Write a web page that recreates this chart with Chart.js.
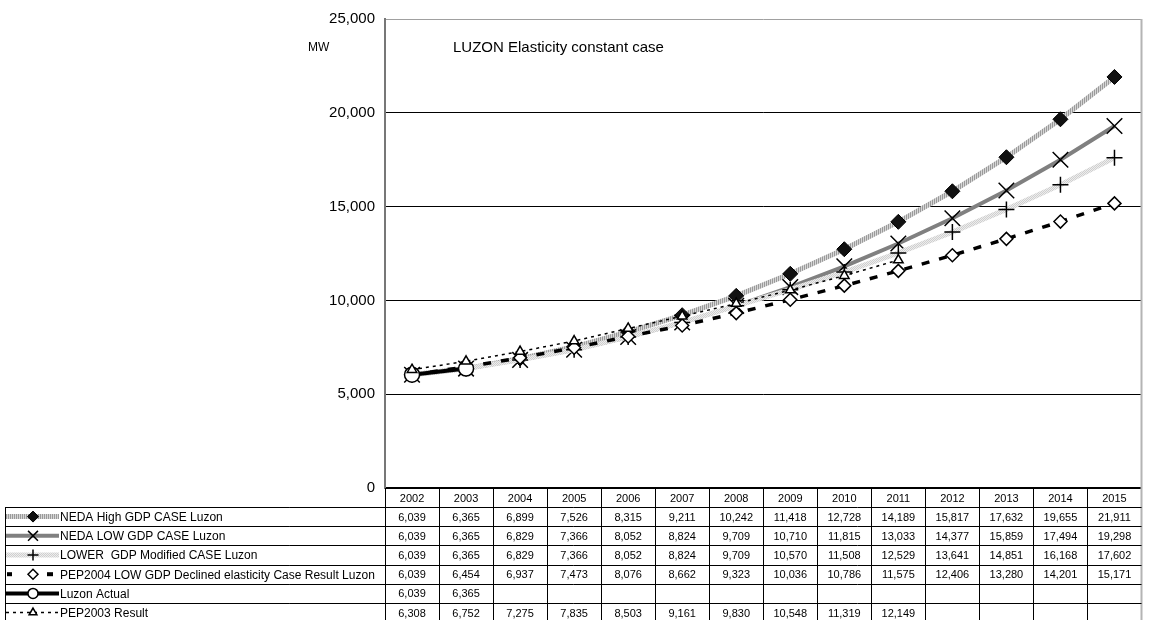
<!DOCTYPE html>
<html>
<head>
<meta charset="utf-8">
<script src="https://cdn.jsdelivr.net/npm/chart.js@4.4.1/dist/chart.umd.min.js"></script>
<style>
  html, body { margin: 0; padding: 0; background: #fff; }
  #wrap { width: 1154px; height: 620px; position: relative; overflow: hidden; }
</style>
</head>
<body>
<div id="wrap"><canvas id="chart" width="1154" height="620"></canvas></div>
<script>
// ---- data ----
const years = ['2002','2003','2004','2005','2006','2007','2008','2009','2010','2011','2012','2013','2014','2015'];
const nedaHigh      = [6039, 6365, 6899, 7526, 8315, 9211, 10242, 11418, 12728, 14189, 15817, 17632, 19655, 21911];
const nedaLow       = [6039, 6365, 6829, 7366, 8052, 8824, 9709, 10710, 11815, 13033, 14377, 15859, 17494, 19298];
const lowerModified = [6039, 6365, 6829, 7366, 8052, 8824, 9709, 10570, 11508, 12529, 13641, 14851, 16168, 17602];
const pep2004       = [6039, 6454, 6937, 7473, 8076, 8662, 9323, 10036, 10786, 11575, 12406, 13280, 14201, 15171];
const luzonActual   = [6039, 6365, null, null, null, null, null, null, null, null, null, null, null, null];
const pep2003       = [6308, 6752, 7275, 7835, 8503, 9161, 9830, 10548, 11319, 12149, null, null, null, null];
const seriesNames = [
  'NEDA High GDP CASE Luzon',
  'NEDA LOW GDP CASE Luzon',
  'LOWER  GDP Modified CASE Luzon',
  'PEP2004 LOW GDP Declined elasticity Case Result Luzon',
  'Luzon Actual',
  'PEP2003 Result'
];
const yMin = 0, yMax = 25000, yStep = 5000;
const unitLabel = 'MW';
const chartTitle = 'LUZON Elasticity constant case';

const FONT = '"Liberation Sans", Arial, sans-serif';

// striped fills for the textured lines
function stripePattern(c1, c2, checker) {
  const cv = document.createElement('canvas');
  cv.width = 2; cv.height = 2;
  const g = cv.getContext('2d');
  g.fillStyle = c2; g.fillRect(0, 0, 2, 2);
  g.fillStyle = c1;
  if (checker) { g.fillRect(0, 0, 1, 1); g.fillRect(1, 1, 1, 1); }
  else { g.fillRect(0, 0, 1, 2); }
  return g.createPattern(cv, 'repeat');
}
const ctx0 = document.getElementById('chart').getContext('2d');
const highPattern = stripePattern('#9a9a9a', '#d6d6d6', false);
const lowerPattern = stripePattern('#cfcfcf', '#ededed', true);

const styles = [
  { line: highPattern, width: 5, dash: [], point: 'rectRot', r: 7.5, fill: '#111', pbw: 1, lr: 5.5 },
  { line: '#808080', width: 4, dash: [], point: 'crossRot', r: 11, fill: '#000', pbw: 1.5, lr: 7 },
  { line: lowerPattern, width: 5, dash: [], point: 'cross', r: 8, fill: '#000', pbw: 1.5, lr: 5.5 },
  { line: '#000', width: 3.5, dash: [8, 10], point: 'rectRot', r: 6.5, fill: '#fff', pbw: 1.5, lr: 5 },
  { line: '#000', width: 4, dash: [], point: 'circle', r: 7.5, fill: '#fff', pbw: 1.5, lr: 5 },
  { line: '#000', width: 1.5, dash: [3, 4], point: 'triangle', r: 5.5, fill: '#fff', pbw: 1.5, lr: 4.5 }
];
const seriesData = [nedaHigh, nedaLow, lowerModified, pep2004, luzonActual, pep2003];

const datasets = seriesData.map((d, i) => ({
  label: seriesNames[i],
  data: d,
  order: seriesData.length - i,
  borderColor: styles[i].line,
  borderWidth: styles[i].width,
  borderDash: styles[i].dash,
  fill: false,
  tension: 0,
  spanGaps: false,
  pointStyle: styles[i].point,
  pointRadius: styles[i].r,
  pointHoverRadius: styles[i].r,
  pointBackgroundColor: styles[i].fill,
  pointBorderColor: '#000',
  pointBorderWidth: styles[i].pbw
}));

// labels, borders and the data table under the plot
const decorPlugin = {
  id: 'decor',
  afterDraw(chart) {
    const { ctx, chartArea: a, scales: { x } } = chart;
    const n = years.length;
    const colW = (a.right - a.left) / n;
    const top = a.bottom;
    const headH = 19, rowH = 19.2;
    const legL = 5;
    const bottom = chart.height + 5;
    ctx.save();

    // unit and title
    ctx.fillStyle = '#000';
    ctx.textBaseline = 'middle';
    ctx.textAlign = 'left';
    ctx.font = '12px ' + FONT;
    ctx.fillText(unitLabel, 308, 48);
    ctx.font = '15px ' + FONT;
    ctx.fillText(chartTitle, 453, 48);

    // right plot border
    ctx.strokeStyle = '#b4b4b4';
    ctx.lineWidth = 2;
    ctx.beginPath();
    ctx.moveTo(a.right, a.top);
    ctx.lineTo(a.right, bottom);
    ctx.stroke();

    // table grid
    ctx.strokeStyle = '#000';
    ctx.lineWidth = 1;
    ctx.beginPath();
    for (let k = 0; k <= seriesNames.length; k++) {
      const yy = Math.round(top + headH + k * rowH) + 0.5;
      ctx.moveTo(legL, yy);
      ctx.lineTo(a.right, yy);
    }
    for (let i = 0; i < n; i++) {
      const xx = Math.round(a.left + i * colW) + 0.5;
      ctx.moveTo(xx, top);
      ctx.lineTo(xx, bottom);
    }
    ctx.moveTo(legL + 0.5, top + headH);
    ctx.lineTo(legL + 0.5, bottom);
    ctx.stroke();

    // header years
    ctx.textAlign = 'center';
    ctx.font = '11px ' + FONT;
    years.forEach((yr, i) => ctx.fillText(yr, x.getPixelForValue(i), top + headH / 2 + 1));

    // rows: legend key, name, values
    seriesData.forEach((d, r) => {
      const cy = top + headH + r * rowH + rowH / 2;
      const st = styles[r];
      // key line
      ctx.save();
      if (r === 3) {
        // dashed key: one dash each side of the marker
        ctx.fillStyle = '#000';
        ctx.fillRect(legL + 2, cy - 2, 5, 4);
        ctx.fillRect(47, cy - 2, 6, 4);
      } else {
        ctx.strokeStyle = st.line;
        ctx.lineWidth = st.width;
        ctx.setLineDash(st.dash);
        ctx.beginPath();
        ctx.moveTo(legL + 1, cy);
        ctx.lineTo(59, cy);
        ctx.stroke();
      }
      ctx.restore();
      // key marker
      ctx.save();
      ctx.fillStyle = st.fill;
      ctx.strokeStyle = '#000';
      ctx.lineWidth = st.pbw;
      Chart.helpers.drawPoint(ctx, { pointStyle: st.point, radius: st.lr, rotation: 0, borderWidth: st.pbw }, 33, cy);
      ctx.restore();
      // name
      ctx.fillStyle = '#000';
      ctx.textAlign = 'left';
      ctx.font = '12px ' + FONT;
      ctx.fillText(seriesNames[r], 60, cy + 1);
      // values
      ctx.textAlign = 'center';
      ctx.font = '11px ' + FONT;
      d.forEach((v, i) => {
        if (v === null) return;
        ctx.fillText(v.toLocaleString('en-US'), x.getPixelForValue(i), cy + 1);
      });
    });
    ctx.restore();
  }
};

new Chart(ctx0, {
  type: 'line',
  data: { labels: years, datasets: datasets },
  options: {
    responsive: false,
    animation: false,
    devicePixelRatio: 1,
    layout: { padding: { top: 17, right: 7, left: 0, bottom: 0 } },
    plugins: { legend: { display: false }, tooltip: { enabled: false }, title: { display: false } },
    scales: {
      x: {
        type: 'category',
        offset: true,
        grid: { display: false, drawTicks: false },
        border: { display: true, color: '#000', width: 2 },
        ticks: { display: false },
        afterFit(s) { s.height = 132; }
      },
      y: {
        min: yMin,
        max: yMax,
        ticks: {
          stepSize: yStep,
          padding: 10,
          color: '#000',
          font: { size: 15, family: FONT },
          callback: v => Number(v).toLocaleString('en-US')
        },
        grid: {
          drawTicks: false,
          lineWidth: 1,
          color: c => (c.tick && c.tick.value === yMax) ? '#a0a0a0' : '#000'
        },
        border: { display: true, color: '#777', width: 2 },
        afterFit(s) { s.width = 385; }
      }
    }
  },
  plugins: [decorPlugin]
});
</script>
</body>
</html>
